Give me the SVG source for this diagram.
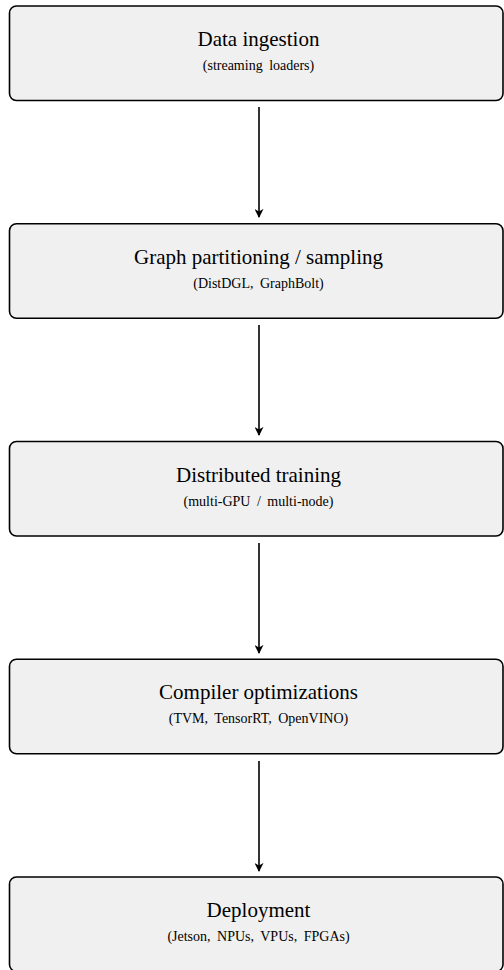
<svg xmlns="http://www.w3.org/2000/svg" width="504" height="970" viewBox="0 0 504 970">
  <defs>
    <marker id="arrowhead" viewBox="0 0 10 10" refX="9" refY="5" markerWidth="9" markerHeight="9" markerUnits="userSpaceOnUse" orient="auto">
      <path d="M0,0 L10,5 L0,10 L3,5 Z" fill="#000"/>
    </marker>
  </defs>
  <style>
    .box { fill: #f0f0f0; stroke: #000; stroke-width: 1.6; }
    .title { font-family: "Liberation Serif", "Times New Roman", serif; font-size: 21px; fill: #000; text-anchor: middle; }
    .sub { font-family: "Liberation Serif", "Times New Roman", serif; font-size: 14px; fill: #000; text-anchor: middle; word-spacing: 3px; }
    .edge { stroke: #000; stroke-width: 1.6; fill: none; marker-end: url(#arrowhead); }
  </style>

  <rect width="504" height="970" fill="#ffffff"/>

  <!-- vertical flow arrows between stages -->
  <g id="edges">
    <line class="edge" x1="259" y1="107" x2="259" y2="217"/>
    <line class="edge" x1="259" y1="325" x2="259" y2="435"/>
    <line class="edge" x1="259" y1="543" x2="259" y2="653"/>
    <line class="edge" x1="259" y1="761" x2="259" y2="871"/>
  </g>

  <g id="node-ingestion">
    <rect class="box" x="9.5" y="6" width="493.5" height="94.5" rx="7"/>
    <text class="title" x="258.5" y="46">Data ingestion</text>
    <text class="sub" x="258.5" y="70">(streaming loaders)</text>
  </g>

  <g id="node-partitioning">
    <rect class="box" x="9.5" y="223.75" width="493.5" height="94.5" rx="7"/>
    <text class="title" x="258.5" y="263.75">Graph partitioning / sampling</text>
    <text class="sub" x="258.5" y="287.75">(DistDGL, GraphBolt)</text>
  </g>

  <g id="node-training">
    <rect class="box" x="9.5" y="441.5" width="493.5" height="94.5" rx="7"/>
    <text class="title" x="258.5" y="481.5">Distributed training</text>
    <text class="sub" x="258.5" y="505.5">(multi-GPU / multi-node)</text>
  </g>

  <g id="node-compiler">
    <rect class="box" x="9.5" y="659.25" width="493.5" height="94.5" rx="7"/>
    <text class="title" x="258.5" y="699.25">Compiler optimizations</text>
    <text class="sub" x="258.5" y="723.25">(TVM, TensorRT, OpenVINO)</text>
  </g>

  <g id="node-deployment">
    <rect class="box" x="9.5" y="877" width="493.5" height="94.5" rx="7"/>
    <text class="title" x="258.5" y="917">Deployment</text>
    <text class="sub" x="258.5" y="941">(Jetson, NPUs, VPUs, FPGAs)</text>
  </g>
</svg>
